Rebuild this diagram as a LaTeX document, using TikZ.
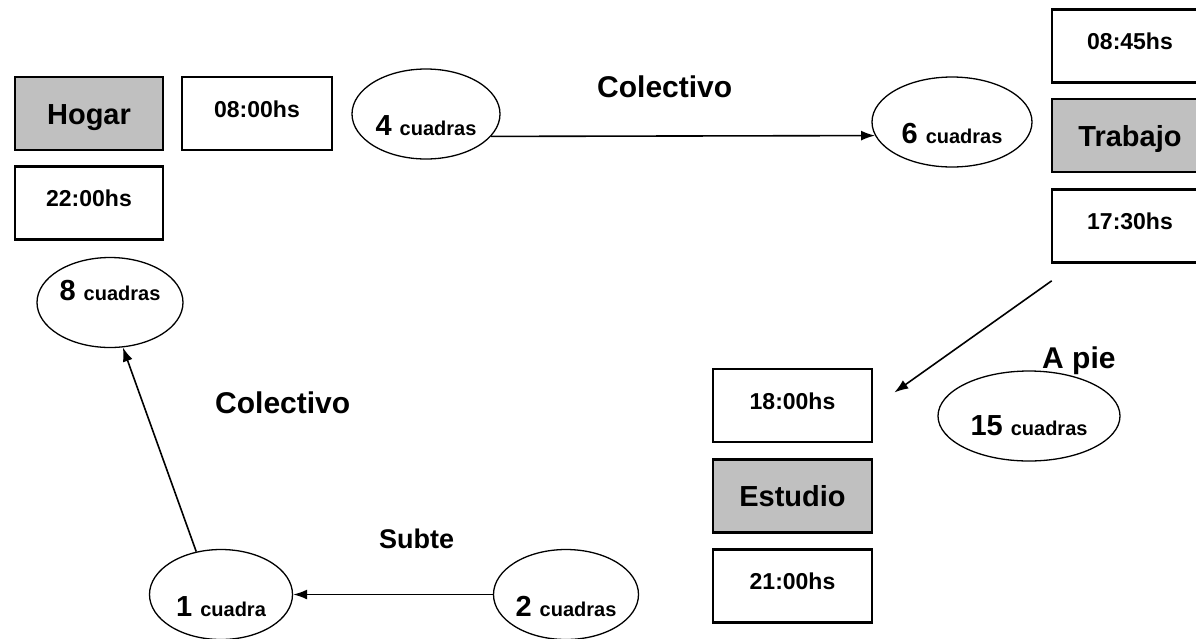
\documentclass[tikz,border=0pt]{standalone}
\usepackage{fontspec}
\setmainfont{Liberation Sans}
\usetikzlibrary{shapes.geometric,arrows.meta}
\definecolor{boxgray}{RGB}{192,192,192}
\newcommand{\numsz}{\fontsize{29}{30}\selectfont}
\newcommand{\cuadsz}{\fontsize{20}{21}\selectfont}
\begin{document}
\begin{tikzpicture}[x=1pt,y=-1pt,
  lugar/.style={draw,fill=boxgray,line width=2.6pt,minimum width=148pt,minimum height=73pt,inner sep=0pt,
    font=\fontsize{29}{30}\selectfont\bfseries,text height=21pt,text depth=0pt},
  hora/.style={draw,line width=2.6pt,minimum width=150pt,minimum height=73pt,inner sep=0pt,
    font=\fontsize{23}{24}\selectfont\bfseries,text height=16pt,text depth=9pt},
  cuad/.style={ellipse,draw,line width=1.3pt,minimum height=90pt,inner sep=0pt,font=\bfseries,
    text height=42pt,text depth=0pt},
  flecha/.style={line width=1.6pt,-{Latex[length=14pt,width=10pt]}},
  etiq/.style={anchor=base west,inner sep=0pt,font=\fontsize{30}{31}\selectfont\bfseries}]
  \useasboundingbox (0,0) rectangle (1196,638);
  \clip (0,0) rectangle (1196,638);

  \node[lugar] (hogar) at (89,113.5) {Hogar};
  \node[hora] (h0800) at (257,113.5) {08:00hs};
  \node[hora,minimum width=148pt] (h2200) at (89,203) {22:00hs};

  \node[hora,minimum width=156pt] (h0845) at (1130,46) {08:45hs};
  \node[lugar,minimum width=156pt] (trabajo) at (1130,135.5) {Trabajo};
  \node[hora,minimum width=156pt] (h1730) at (1130,226) {17:30hs};

  \node[hora,minimum width=159pt] (h1800) at (792.5,405.5) {18:00hs};
  \node[lugar,minimum width=159pt] (estudio) at (792.5,496) {Estudio};
  \node[hora,minimum width=159pt] (h2100) at (792.5,586) {21:00hs};

  \node[cuad,minimum width=148pt] (c4) at (426,114) {\numsz 4 \cuadsz cuadras};
  \node[cuad,minimum width=160pt] (c6) at (952,122) {\numsz 6 \cuadsz cuadras};
  \node[cuad,minimum width=146pt,text height=20pt,text depth=24pt] (c8) at (110,302.5) {\numsz 8 \cuadsz cuadras};
  \node[cuad,minimum width=182pt,text height=38pt] (c15) at (1029,416) {\numsz 15 \cuadsz cuadras};
  \node[cuad,minimum width=143pt,text height=43pt] (c1) at (221,594.5) {\numsz 1 \cuadsz cuadra};
  \node[cuad,minimum width=145pt,text height=43pt] (c2) at (566,594.5) {\numsz 2 \cuadsz cuadras};

  \node[etiq] (colec1) at (597,97) {Colectivo};
  \node[etiq] (colec2) at (215,413) {Colectivo};
  \node[etiq,font=\fontsize{27}{28}\selectfont\bfseries] (subte) at (379,548) {Subte};
  \node[etiq] (apie) at (1042,368) {A pie};

  \coordinate (pie0) at ([shift={(1,17)}]h1730.south west);
  \coordinate (pie1) at ([shift={(21,-13)}]h1800.east);

  \draw[flecha] (c4.-19) -- (c6.190);
  \draw[flecha] (pie0) -- (pie1);
  \draw[flecha] (c2.west) -- (c1.east);
  \draw[flecha] (c1.120) -- (c8.-74);
\end{tikzpicture}
\end{document}
